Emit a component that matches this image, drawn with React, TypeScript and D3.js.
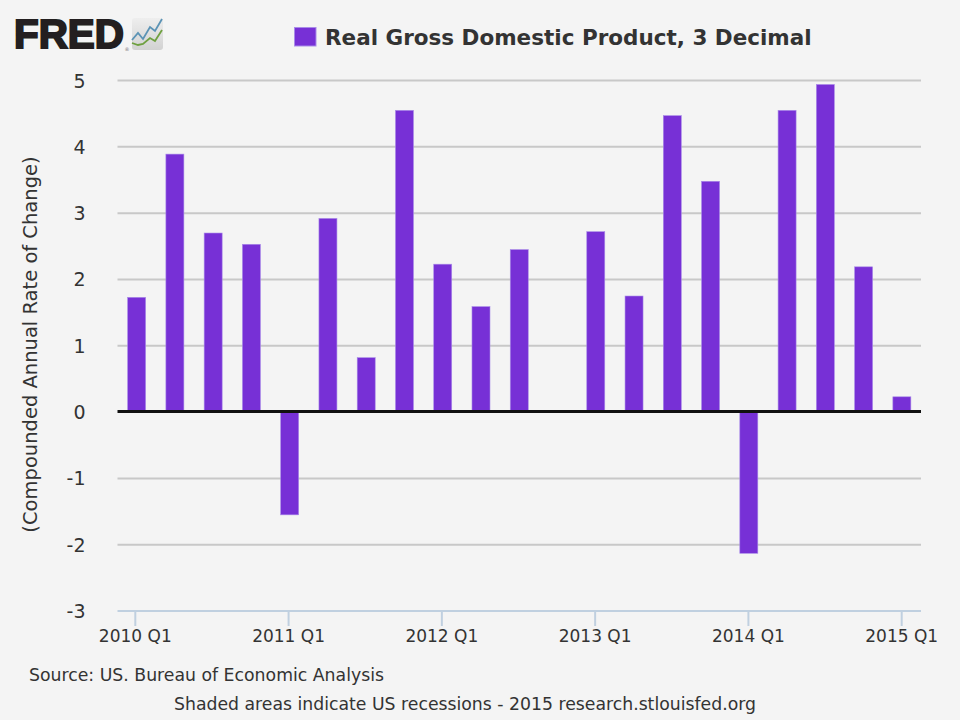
import React from 'react';
import * as d3 from 'd3';

const quarters = [
  '2010 Q1', '2010 Q2', '2010 Q3', '2010 Q4',
  '2011 Q1', '2011 Q2', '2011 Q3', '2011 Q4',
  '2012 Q1', '2012 Q2', '2012 Q3', '2012 Q4',
  '2013 Q1', '2013 Q2', '2013 Q3', '2013 Q4',
  '2014 Q1', '2014 Q2', '2014 Q3', '2014 Q4',
  '2015 Q1',
];
const gdpChange = [
  1.73, 3.89, 2.7, 2.53, -1.55, 2.92, 0.82, 4.55, 2.23, 1.59, 2.45, 0.0,
  2.72, 1.75, 4.47, 3.48, -2.13, 4.55, 4.94, 2.19, 0.23,
];
const yTicks = [5, 4, 3, 2, 1, 0, -1, -2, -3];
const xTickLabels = ['2010 Q1', '2011 Q1', '2012 Q1', '2013 Q1', '2014 Q1', '2015 Q1'];

const font = '"DejaVu Sans", Verdana, sans-serif';
const textColor = '#333333';
const barColor = '#7730d6';

export default function App() {
  const width = 960;
  const height = 720;

  const x = d3.scaleBand<string>().domain(quarters).range([117.5, 921]);
  // axis ticks sit slightly off the bar centres in the original
  const xTick = d3.scalePoint<string>().domain(quarters).range([135.3, 901.7]);
  const y = d3.scaleLinear().domain([-3, 5]).range([611, 80.5]);
  const barW = 18;

  return (
    <svg
      width={width}
      height={height}
      style={{ position: 'absolute', left: 0, top: 0, background: '#f4f4f4', fontFamily: font }}
    >
      <defs>
        <linearGradient id="logoBg" x1="0" y1="0" x2="0" y2="1">
          <stop offset="0" stopColor="#eeeeee" />
          <stop offset="1" stopColor="#d2d2d2" />
        </linearGradient>
      </defs>

      {/* logo */}
      <text x={14} y={48} fontFamily='"Liberation Sans", Arial, sans-serif' fontWeight="bold" fontSize={41} fill="#231f20" stroke="#231f20" strokeWidth={2} textLength={110} lengthAdjust="spacingAndGlyphs">FRED</text>
      <text x={124.5} y={51} fontSize={5} fill="#777">®</text>
      <rect x={132} y={18} width={31} height={32} rx={3} fill="url(#logoBg)" />
      <path d="M132 40 L138 33 L143 39 L150 27 L155 31 L162 19" fill="none" stroke="#5b93b5" strokeWidth={1.8} />
      <path d="M132 43 L138 45 L143 44 L150 38 L155 41 L162 30" fill="none" stroke="#6fa040" strokeWidth={1.8} />

      {/* legend */}
      <rect x={294.5} y={27.5} width={21.5} height={18.5} fill={barColor} stroke="#a98be8" strokeWidth={1} />
      <text x={325} y={45} fontSize={21.5} fontWeight="bold" fill={textColor}>Real Gross Domestic Product, 3 Decimal</text>

      {/* grid */}
      {yTicks.filter(t => t !== -3 && t !== 0).map(t => (
        <line key={t} x1={117.5} x2={921} y1={y(t)} y2={y(t)} stroke="#c8c8c8" strokeWidth={2} />
      ))}
      {yTicks.map(t => (
        <text key={t} x={85.5} y={y(t) + 7} textAnchor="end" fontSize={19} fill={textColor}>{t}</text>
      ))}

      {/* bars */}
      {quarters.map((q, i) => (
        <rect
          key={q}
          x={(x(q) as number) + x.bandwidth() / 2 - barW / 2}
          y={Math.min(y(gdpChange[i]), y(0))}
          width={barW}
          height={Math.abs(y(gdpChange[i]) - y(0))}
          fill={barColor}
          stroke="#a98be8"
          strokeWidth={0.6}
        />
      ))}
      <line x1={117.5} x2={921} y1={y(0) - 0.5} y2={y(0) - 0.5} stroke="#111111" strokeWidth={3} />

      {/* x axis */}
      <line x1={117.5} x2={921} y1={y(-3)} y2={y(-3)} stroke="#c0d0e0" strokeWidth={2} />
      {xTickLabels.map(q => (
        <g key={q}>
          <line x1={xTick(q)} x2={xTick(q)} y1={y(-3)} y2={y(-3) + 15} stroke="#c0d0e0" strokeWidth={2} />
          <text x={xTick(q)} y={642} textAnchor="middle" fontSize={17} fill={textColor}>{q}</text>
        </g>
      ))}

      <text transform="translate(36.5,344.5) rotate(-90)" textAnchor="middle" fontSize={19.5} fill={textColor}>(Compounded Annual Rate of Change)</text>
      <text x={29} y={681} fontSize={17.3} fill={textColor}>Source: US. Bureau of Economic Analysis</text>
      <text x={465} y={710} textAnchor="middle" fontSize={17.27} fill={textColor}>Shaded areas indicate US recessions - 2015 research.stlouisfed.org</text>
    </svg>
  );
}
